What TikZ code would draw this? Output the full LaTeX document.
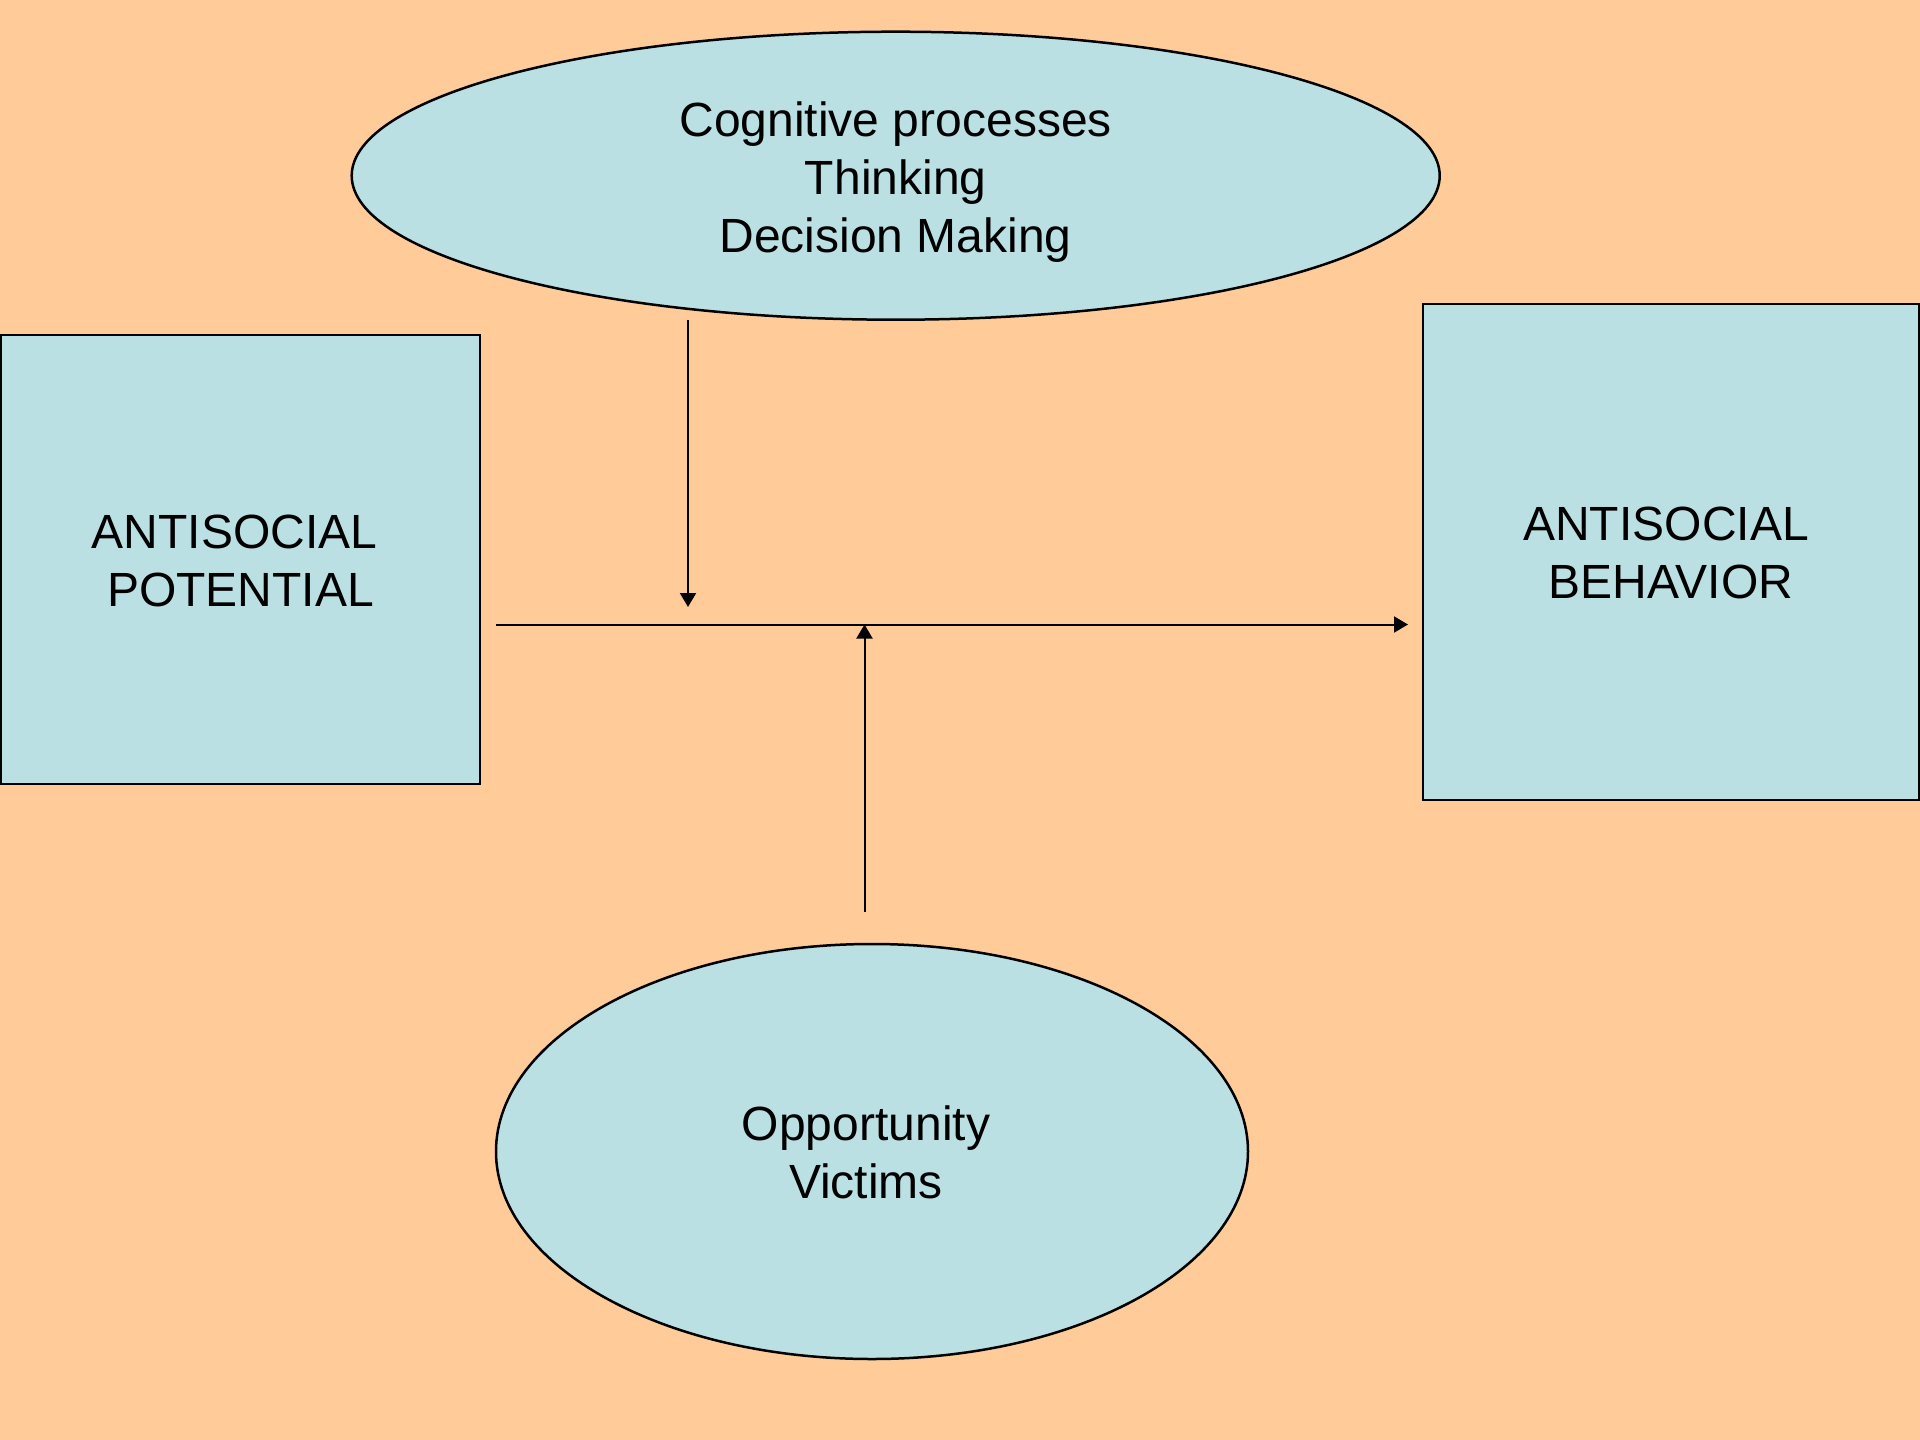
\documentclass[tikz,border=0pt]{standalone}
\usepackage{fontspec}
\setmainfont{Liberation Sans}
\usetikzlibrary{shapes.geometric,arrows.meta,calc}
\definecolor{bgpeach}{RGB}{255,204,153}
\definecolor{boxblue}{RGB}{187,224,227}
\tikzset{
  shapeblue/.style={draw=black, fill=boxblue, line width=2.5pt, inner sep=0pt},
  ovalnode/.style={shapeblue, ellipse},
  boxnode/.style={shapeblue, rectangle},
  lbl/.style={inner sep=0pt, align=center, font=\fontsize{48}{58}\selectfont},
  conn/.style={line width=2pt, -{Triangle[width=16pt,length=14pt]}}
}
\begin{document}
\begin{tikzpicture}[x=1pt,y=-1pt]
\useasboundingbox (0,0) rectangle (1920,1440);
\fill[bgpeach] (0,0) rectangle (1920,1440);

\node[ovalnode, minimum width=1088pt, minimum height=288pt] (cog) at (895.7,175.7) {};
\node[boxnode, minimum width=479pt, minimum height=449pt] (ap) at (240.5,559.5) {};
\node[boxnode, minimum width=496pt, minimum height=496pt] (ab) at (1671,552) {};
\node[ovalnode, minimum width=752pt, minimum height=415pt] (opp) at (872,1151.5) {};

\node[lbl] (cogtext) at ($(cog.center)+(0,6)$) {Cognitive processes\\Thinking\\Decision Making};
\node[lbl] (aptext) at ($(ap.center)+(0,1)$) {ANTISOCIAL\kern12pt\\POTENTIAL};
\node[lbl] (abtext) at ($(ab.center)+(0,1)$) {ANTISOCIAL\kern10pt\\BEHAVIOR};
\node[lbl] (opptext) at ($(opp.center)+(-6,1)$) {Opportunity\\Victims};

\coordinate (hstart) at (496,624.5);
\coordinate (hend) at (1408,624.5);
\coordinate (dstart) at (688,320);
\coordinate (dend) at (688,607);
\coordinate (ustart) at (864.5,912);
\coordinate (uend) at (864.5,624.5);

\draw[conn] (hstart) -- (hend);
\draw[conn] (dstart) -- (dend);
\draw[conn] (ustart) -- (uend);
\end{tikzpicture}
\end{document}
